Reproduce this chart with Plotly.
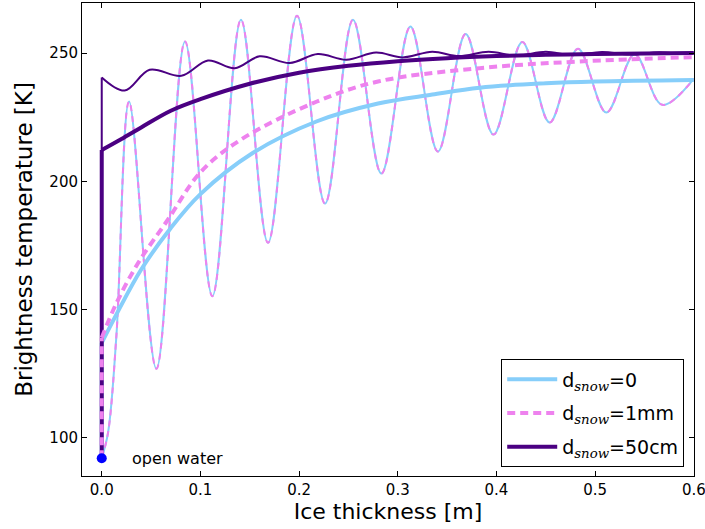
import plotly.graph_objects as go

# ---------------- data ----------------
open_water_x = [0.0]
open_water_T = [92.0]

# coherent (oscillating) curve, d_snow = 0 and d_snow = 1mm (identical)
osc_x = [0.0, 0.0064, 0.0149, 0.0277, 0.0554, 0.0844, 0.1121, 0.1411, 0.1685,
         0.1979, 0.2263, 0.2546, 0.2834, 0.3128, 0.3407, 0.3688, 0.397, 0.4262,
         0.4539, 0.4826, 0.5114, 0.540, 0.568, 0.6]
osc_T = [92.0, 102.0, 140.0, 231.1, 126.9, 254.5, 155.2, 263.0, 176.0,
         264.5, 191.3, 263.0, 203.0, 260.3, 211.6, 257.4, 218.2, 254.3,
         222.9, 251.7, 226.8, 249.5, 229.8, 240.0]

# coherent curve, d_snow = 50cm
osc50_x = [0.0, 0.0233, 0.0486, 0.0807, 0.1077, 0.1348, 0.160, 0.1905, 0.219,
           0.248, 0.278, 0.305, 0.335, 0.362, 0.392, 0.42, 0.45, 0.477, 0.507,
           0.535, 0.565, 0.59, 0.6]
osc50_T = [240.5, 235.4, 243.5, 241.1, 247.1, 244.1, 248.7, 246.1, 249.6,
           247.4, 250.2, 248.3, 250.5, 248.8, 250.5, 249.0, 250.5, 249.2, 250.4,
           249.4, 250.3, 249.6, 250.0]

# incoherent (smooth) curves
snow0_x = [0.0, 0.0165, 0.04, 0.07, 0.1, 0.153, 0.2175, 0.28, 0.335, 0.383,
           0.45, 0.5, 0.6]
snow0_T = [137.0, 149.3, 165.6, 181.8, 195.0, 211.0, 223.3, 230.3, 233.8, 236.5,
           238.2, 238.9, 239.5]

snow1mm_x = [0.0, 0.015, 0.037, 0.067, 0.1, 0.14, 0.2175, 0.28, 0.383, 0.484, 0.6]
snow1mm_T = [139.0, 152.6, 168.2, 185.0, 203.5, 216.0, 231.0, 238.9, 244.1, 246.7, 248.4]

snow50_x = [0.0, 0.02, 0.04, 0.07, 0.1, 0.15, 0.2, 0.25, 0.3, 0.35, 0.4, 0.45,
            0.5, 0.55, 0.6]
snow50_T = [212.2, 216.5, 221.0, 227.5, 232.0, 238.0, 242.3, 245.0, 246.8, 248.0,
            248.8, 249.3, 249.6, 249.8, 250.0]

x_ticks = [0.0, 0.1, 0.2, 0.3, 0.4, 0.5, 0.6]
x_tick_text = ["0.0", "0.1", "0.2", "0.3", "0.4", "0.5", "0.6"]
y_ticks = [100, 150, 200, 250]

SUB = "<sub><span style='font-family:DejaVu Serif;font-style:italic'>snow</span></sub>"
labels = ["d" + SUB + "=0", "d" + SUB + "=1mm", "d" + SUB + "=50cm"]

SKY = "#87CEFA"
VIOLET = "#EE82EE"
INDIGO = "#4B0082"

fig = go.Figure()


def vertical(first_T, color, width, dash="solid"):
    fig.add_trace(go.Scatter(x=[open_water_x[0], open_water_x[0]],
                             y=[open_water_T[0], first_T], mode="lines",
                             line=dict(color=color, width=width, dash=dash),
                             showlegend=False, hoverinfo="skip"))


# thin coherent curves
fig.add_trace(go.Scatter(x=osc_x, y=osc_T, mode="lines", line_shape="spline",
                         line=dict(color=SKY, width=2), showlegend=False))
fig.add_trace(go.Scatter(x=osc_x, y=osc_T, mode="lines", line_shape="spline",
                         line=dict(color=VIOLET, width=2, dash="6px,5px"), showlegend=False))
vertical(osc50_T[0], INDIGO, 2)
fig.add_trace(go.Scatter(x=osc50_x, y=osc50_T, mode="lines", line_shape="spline",
                         line=dict(color=INDIGO, width=2), showlegend=False))

# thick incoherent curves
vertical(snow0_T[0], SKY, 4)
fig.add_trace(go.Scatter(x=snow0_x, y=snow0_T, mode="lines", line_shape="spline",
                         line=dict(color=SKY, width=4), name=labels[0],
                         legendrank=1, legendgroup="a"))
vertical(snow50_T[0], INDIGO, 4)
fig.add_trace(go.Scatter(x=snow50_x, y=snow50_T, mode="lines", line_shape="spline",
                         line=dict(color=INDIGO, width=4), name=labels[2],
                         legendrank=3, legendgroup="c"))
vertical(snow1mm_T[0], VIOLET, 4, "8px,5px")
fig.add_trace(go.Scatter(x=snow1mm_x, y=snow1mm_T, mode="lines", line_shape="spline",
                         line=dict(color=VIOLET, width=4, dash="8px,5px"), name=labels[1],
                         legendrank=2, legendgroup="b"))

# open water point
fig.add_trace(go.Scatter(x=open_water_x, y=open_water_T, mode="markers",
                         marker=dict(color="#0000FF", size=10), showlegend=False))
fig.add_annotation(x=0.029, y=open_water_T[0], text="open water", showarrow=False,
                   xanchor="left", yanchor="middle",
                   font=dict(size=16, color="black", family="DejaVu Sans"))

axis_common = dict(showline=True, linecolor="black", linewidth=1, mirror="ticks",
                   ticks="inside", ticklen=5, tickcolor="black", showgrid=False,
                   zeroline=False, automargin=False, ticklabeloverflow="allow",
                   tickfont=dict(size=15, color="black"))

fig.update_xaxes(range=[-0.02, 0.6002], tickvals=x_ticks, ticktext=x_tick_text,
                 title=dict(text="Ice thickness [m]", font=dict(size=22, color="black"),
                            standoff=5), **axis_common)
fig.update_yaxes(range=[85.1, 269.5], tickvals=y_ticks,
                 title=dict(text="Brightness temperature [K]",
                            font=dict(size=23, color="black"), standoff=10),
                 **axis_common)

fig.update_layout(
    width=705, height=529,
    margin=dict(l=82, r=11, t=3, b=53),
    paper_bgcolor="white", plot_bgcolor="white",
    font=dict(family="DejaVu Sans", color="black"),
    legend=dict(x=0.984, y=0.018, xanchor="right", yanchor="bottom",
                bgcolor="white", bordercolor="black", borderwidth=1,
                font=dict(size=19, color="black"), traceorder="grouped",
                tracegroupgap=6, itemwidth=50),
    showlegend=True,
)

fig.write_html("out.html", config={"displayModeBar": False},
               post_script="document.body.style.margin='0';document.body.style.overflow='hidden';")
